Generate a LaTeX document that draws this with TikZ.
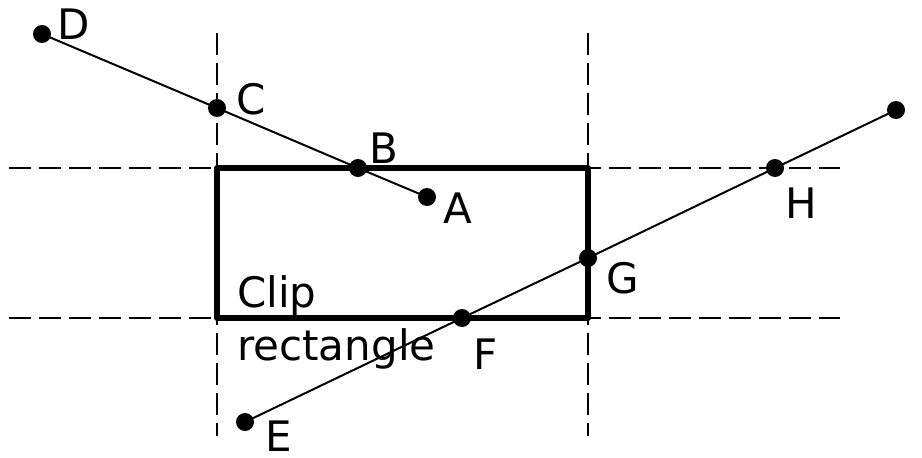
\documentclass[tikz,border=0pt]{standalone}
\usepackage{fontspec}
\setmainfont{DejaVu Sans}
\begin{document}
\begin{tikzpicture}[x=1pt,y=-1pt, font=\fontsize{42}{50}\selectfont, line join=round]
	\tikzset{guide/.style={line width=2pt, dash pattern=on 22pt off 8pt},
		seg/.style={line width=2pt},
		lbl/.style={inner sep=0pt}}
	\useasboundingbox (0,0) rectangle (922,458);
	% window edges, extended
	\draw[guide] (9,168)--(840,168) (9,318)--(840,318);
	\draw[guide] (217,33)--(217,436) (588,33)--(588,436);
	\draw[line width=6pt] (217,168) rectangle (588,318);
	% first segment
	\coordinate (D) at (42,34); \coordinate (C) at (217,108);
	\coordinate (B) at (358,168); \coordinate (A) at (427,197);
	% second segment
	\coordinate (E) at (245,422); \coordinate (F) at (462,318);
	\coordinate (G) at (588,258); \coordinate (H) at (775,168);
	\coordinate (P) at (896,110);
	\draw[seg] (D)--(C)--(B)--(A);
	\draw[seg] (E)--(F)--(G)--(H)--(P);
	\foreach \p in {A,B,C,D,E,F,G,H,P} \fill (\p) circle (9pt);
	\path (74,24) node[lbl] (lD) {D} (251,99) node[lbl] (lC) {C}
		(384,148) node[lbl] (lB) {B} (458,208) node[lbl] (lA) {A};
	\path (279,436) node[lbl] (lE) {E} (486,354) node[lbl] (lF) {F}
		(623,278) node[lbl] (lG) {G} (801,203) node[lbl] (lH) {H};
	\node[lbl, anchor=base west] (clip) at (237,307) {Clip};
	\node[lbl, anchor=base west] (rect) at (237,360) {rectangle};
\end{tikzpicture}
\end{document}
